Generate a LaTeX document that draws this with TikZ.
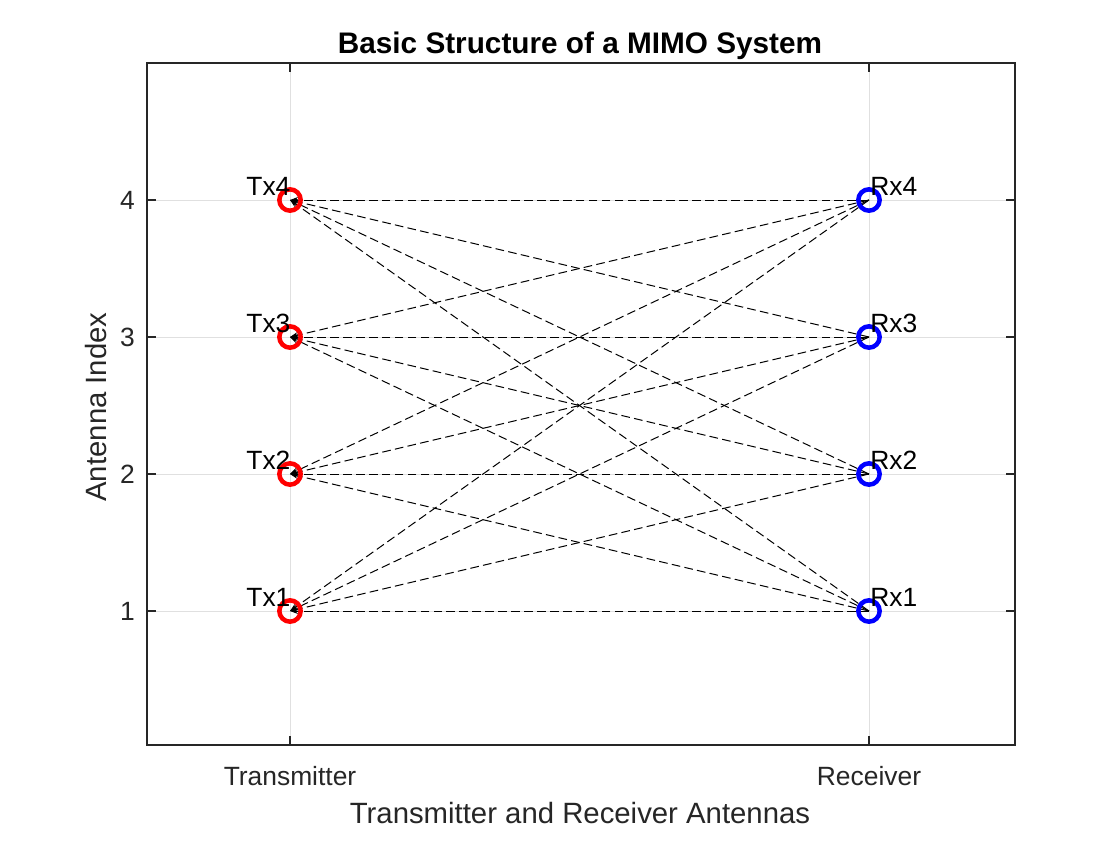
\documentclass[tikz,border=0pt]{standalone}
\usepackage{fontspec}
\setmainfont{Liberation Sans}
\usetikzlibrary{arrows.meta}
\begin{document}
\begin{tikzpicture}[x=0.75pt,y=-0.75pt,
  gridline/.style={draw=black!12,line width=0.75pt},
  axisline/.style={draw=black!85,line width=0.9pt},
  tick/.style={draw=black!85,line width=0.9pt},
  ticklabel/.style={font=\fontsize{19.8}{22}\selectfont,inner sep=0pt,text=black!85},
  axlabel/.style={font=\fontsize{22}{26}\selectfont,inner sep=0pt,text=black!85},
  link/.style={draw=black,line width=0.75pt,dash pattern=on 6.5pt off 3.2pt,
     -{Stealth[length=6pt,width=4.5pt]}},
  txmark/.style={circle,draw=red,line width=3.4pt,minimum size=16pt,inner sep=0pt},
  rxmark/.style={circle,draw=blue,line width=3.4pt,minimum size=16pt,inner sep=0pt},
  antlabel/.style={font=\fontsize{19.8}{22}\selectfont,inner sep=0pt}]
\useasboundingbox[fill=white] (0,0) rectangle (1120,840);
% grid
\foreach \yy in {200,337,474,611} \draw[gridline] (147,\yy) -- (1015,\yy);
\foreach \xx in {290,869} \draw[gridline] (\xx,63) -- (\xx,745);
% axes box
\draw[axisline] (147,63) rectangle (1015,745);
% ticks
\foreach \yy in {200,337,474,611} {
  \draw[tick] (147,\yy) -- (156,\yy);
  \draw[tick] (1015,\yy) -- (1006,\yy);
}
\foreach \xx in {290,869} {
  \draw[tick] (\xx,745) -- (\xx,736);
  \draw[tick] (\xx,63) -- (\xx,72);
}
% tick labels
\node[ticklabel,anchor=east] (yl4) at (135,200) {4};
\node[ticklabel,anchor=east] (yl3) at (135,337) {3};
\node[ticklabel,anchor=east] (yl2) at (135,474) {2};
\node[ticklabel,anchor=east] (yl1) at (135,611) {1};
\node[ticklabel,anchor=base] (xlt) at (290,785) {Transmitter};
\node[ticklabel,anchor=base] (xlr) at (869,785) {Receiver};
% axis labels and title
\node[axlabel,anchor=base] (xlab) at (580,823) {Transmitter and Receiver Antennas};
\node[axlabel,anchor=base,rotate=90] (ylab) at (106,407) {Antenna Index};
\node[font=\fontsize{22.3}{26}\selectfont\bfseries,inner sep=0pt,anchor=base] (title) at (580,53) {Basic Structure of a MIMO System};
% antenna coordinates
\foreach \i/\yy in {1/611,2/474,3/337,4/200} {
  \coordinate (T\i) at (290,\yy);
  \coordinate (R\i) at (869,\yy);
}
% links (arrowheads point at transmitters)
\foreach \i in {1,2,3,4} {
  \foreach \j in {1,2,3,4} {
    \draw[link] (R\j) -- (T\i);
  }
}
% markers
\foreach \i in {1,2,3,4} {
  \node[txmark] (tx\i) at (T\i) {};
  \node[rxmark] (rx\i) at (R\i) {};
  \node[antlabel,anchor=base east] (txl\i) at ([xshift=0.5pt,yshift=3.6pt]T\i) {Tx\i};
  \node[antlabel,anchor=base west] (rxl\i) at ([xshift=0.8pt,yshift=3.6pt]R\i) {Rx\i};
}
\end{tikzpicture}
\end{document}
